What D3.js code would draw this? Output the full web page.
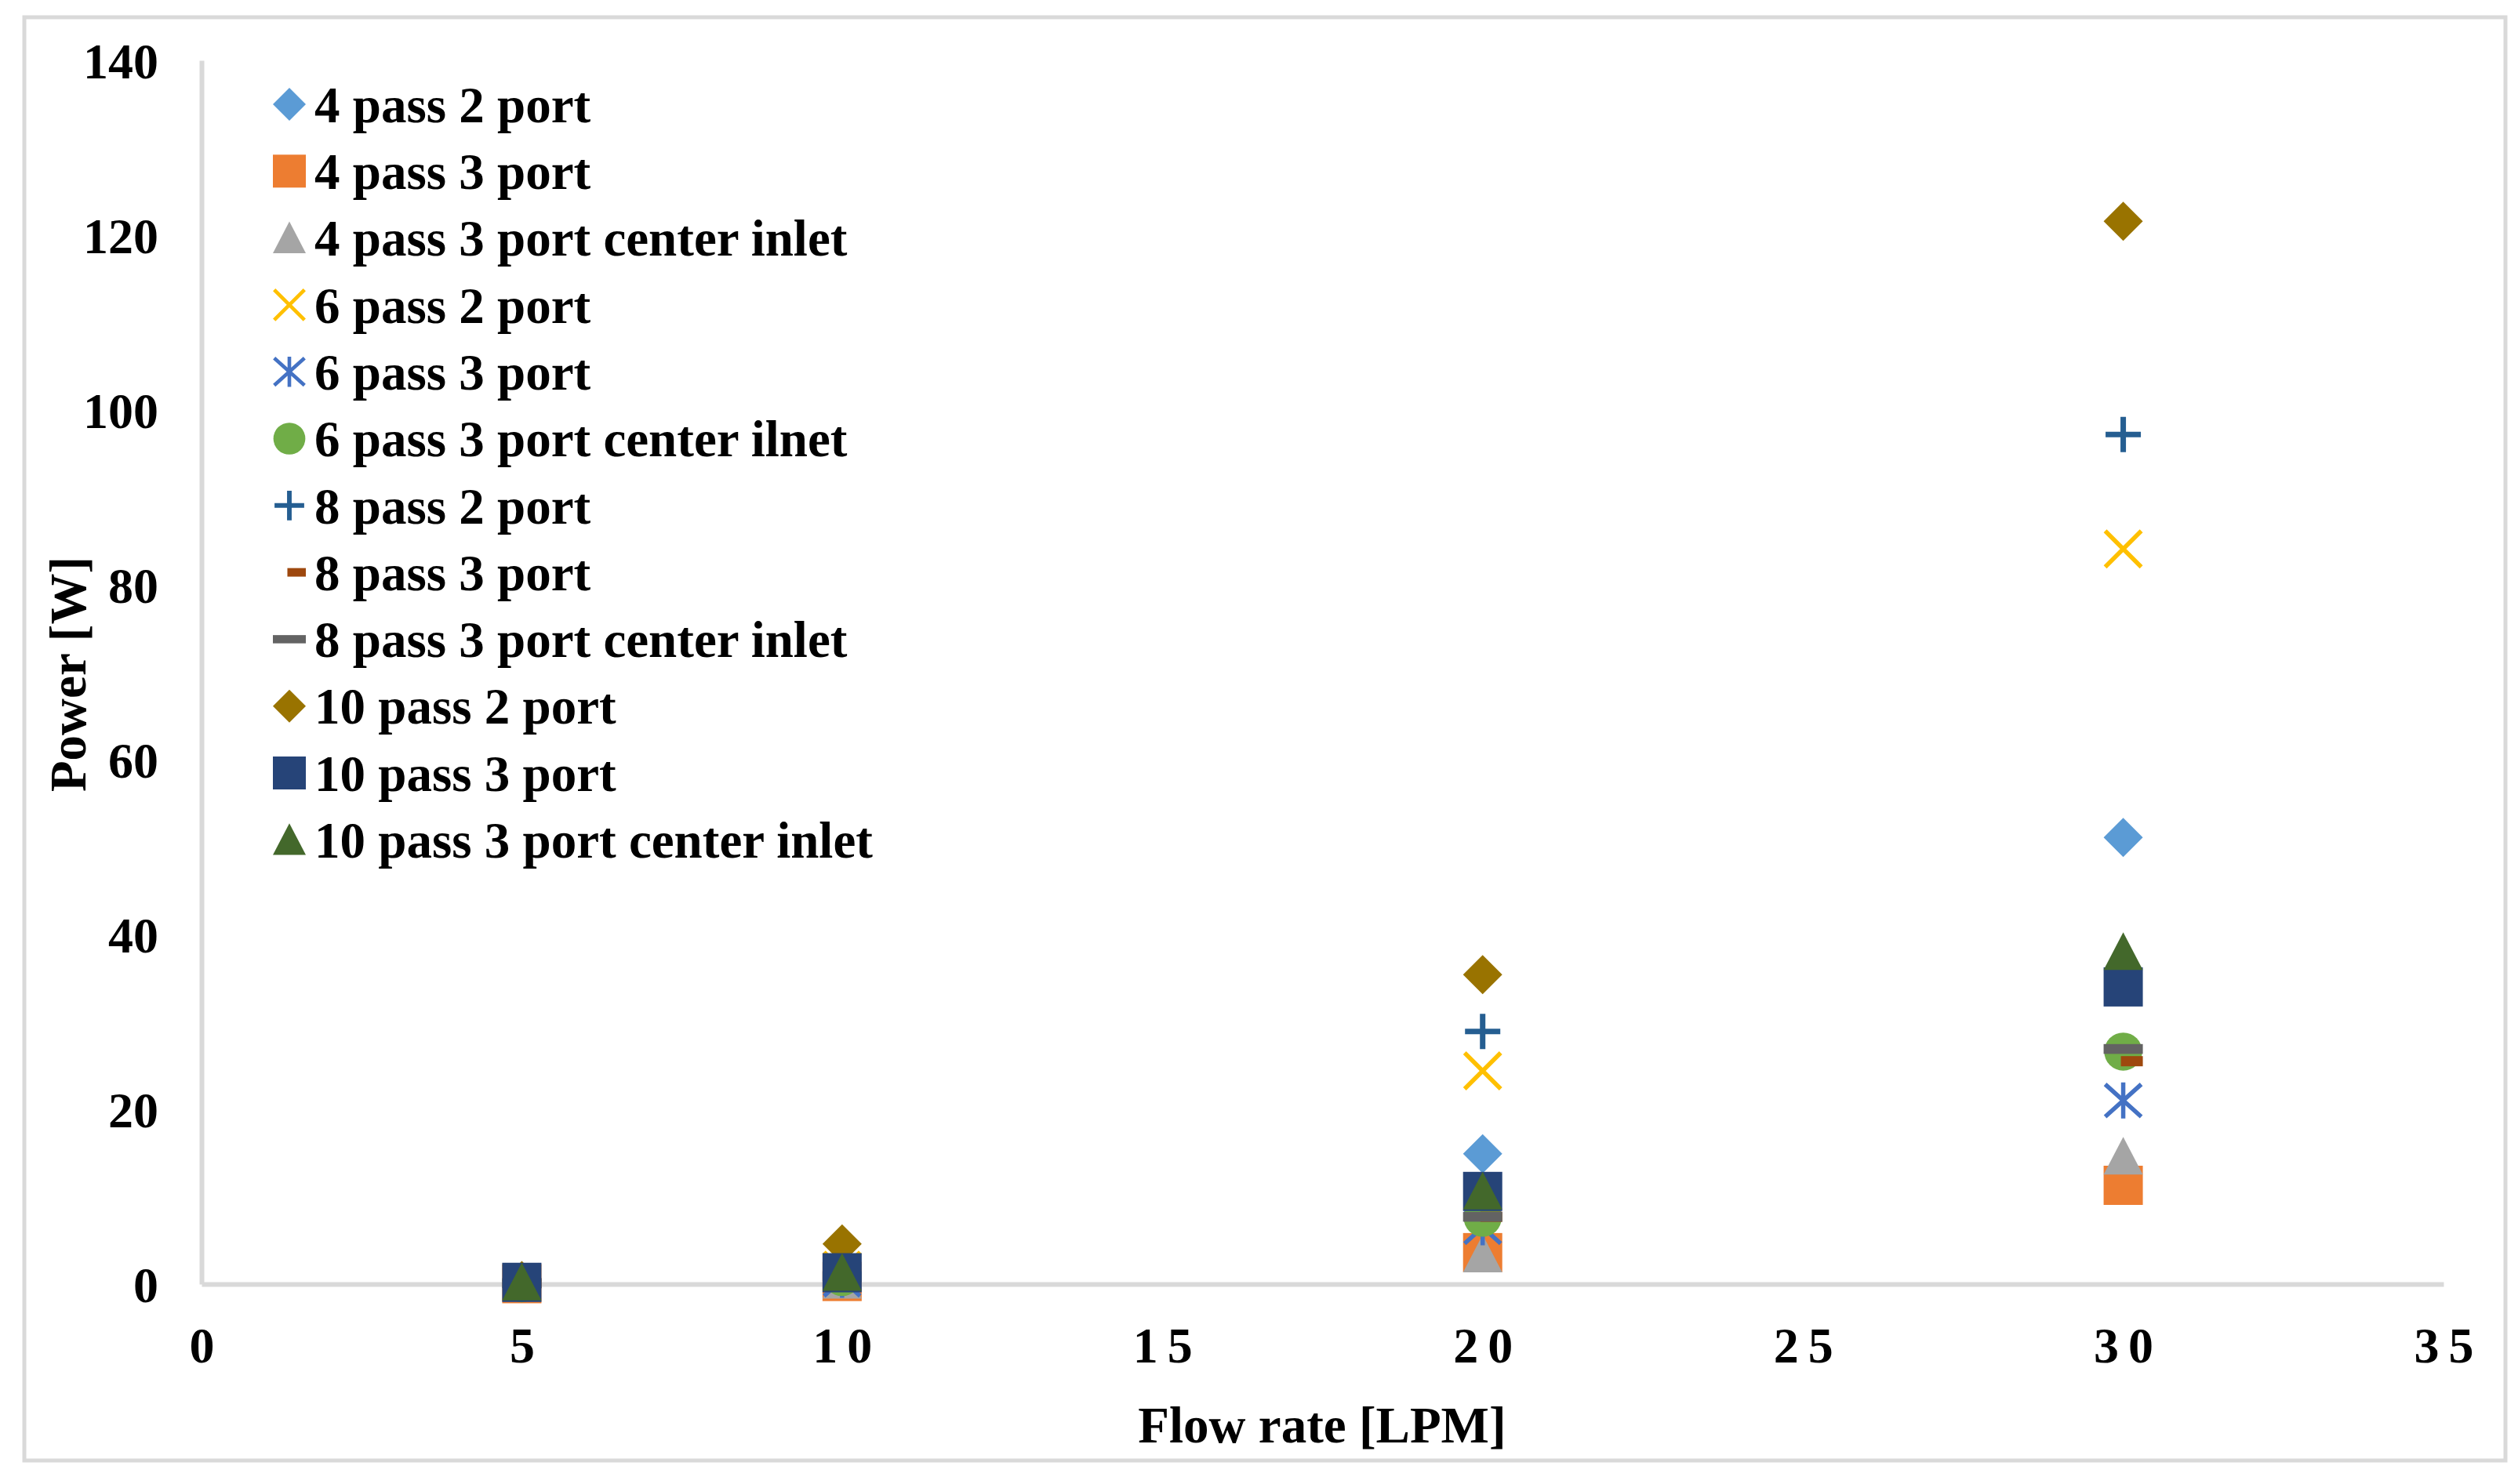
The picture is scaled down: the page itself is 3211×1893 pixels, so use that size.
<!DOCTYPE html>
<html>
<head>
<meta charset="utf-8">
<script src="https://cdn.jsdelivr.net/npm/d3@7"></script>
<style>
  html, body { margin: 0; padding: 0; background: #fff; }
  svg text { font-family: "Liberation Serif", "Times New Roman", serif; font-weight: bold; fill: #000; }
</style>
</head>
<body>
<svg id="chart" width="3211" height="1893"></svg>
<script>
// ---------------- data ----------------
const flowRates = [5, 10, 20, 30];
const seriesNames = [
  "4 pass 2 port", "4 pass 3 port", "4 pass 3 port center inlet",
  "6 pass 2 port", "6 pass 3 port", "6 pass 3 port center ilnet",
  "8 pass 2 port", "8 pass 3 port", "8 pass 3 port center inlet",
  "10 pass 2 port", "10 pass 3 port", "10 pass 3 port center inlet"
];
const s4p2  = [0.1, 1.2, 14.9, 51.1];
const s4p3  = [0.05, 0.3, 3.6, 11.3];
const s4p3c = [0.05, 0.4, 3.4, 14.6];
const s6p2  = [0.2, 1.6, 24.4, 84.1];
const s6p3  = [0.05, 0.5, 6.5, 21.0];
const s6p3c = [0.1, 0.8, 7.6, 26.6];
const s8p2  = [0.3, 2.0, 28.9, 97.2];
const s8p3  = [0.1, 0.8, 7.7, 25.5];
const s8p3c = [0.1, 0.9, 7.7, 26.9];
const s10p2 = [0.4, 4.6, 35.4, 121.6];
const s10p3 = [0.2, 1.3, 10.6, 34.0];
const s10p3c= [0.2, 1.3, 10.6, 38.0];
const seriesValues = [s4p2, s4p3, s4p3c, s6p2, s6p3, s6p3c, s8p2, s8p3, s8p3c, s10p2, s10p3, s10p3c];
const seriesColors = ["#5b9bd5", "#ed7d31", "#a5a5a5", "#ffc000", "#4472c4", "#70ad47",
                      "#255e91", "#9e480e", "#636363", "#997300", "#264478", "#43682b"];
const seriesMarkers = ["diamond", "square", "triangle", "x", "asterisk", "circle",
                       "plus", "shortdash", "dash", "diamond", "square", "triangle"];
const xTicks = [0, 5, 10, 15, 20, 25, 30, 35];
const yTicks = [0, 20, 40, 60, 80, 100, 120, 140];
const xTitle = "Flow rate [LPM]";
const yTitle = "Power [W]";

// ---------------- layout ----------------
(function () {
const svg = d3.select("#chart");
const W = 3211, H = 1893;
const pLeft = 257, pRight = 3116, pTop = 77, pBottom = 1638;

svg.append("rect").attr("x", 0).attr("y", 0).attr("width", W).attr("height", H).attr("fill", "#fff");
svg.append("rect").attr("x", 31).attr("y", 22).attr("width", 3164).attr("height", 1841)
   .attr("fill", "none").attr("stroke", "#d9d9d9").attr("stroke-width", 5);

const x = d3.scaleLinear().domain([0, 35]).range([pLeft, pRight]);
const y = d3.scaleLinear().domain([0, 140]).range([pBottom, pTop]);

// axes
const xAxis = svg.append("g").attr("transform", `translate(0,${pBottom})`)
  .call(d3.axisBottom(x).tickValues(xTicks).tickSize(0).tickPadding(0).tickFormat(d3.format("d")));
xAxis.select(".domain").attr("stroke", "#d9d9d9").attr("stroke-width", 6);
xAxis.selectAll("text").attr("font-size", 64).attr("fill", "#000")
  .attr("letter-spacing", "12px").attr("dx", "6px")
  .attr("y", 78).attr("dy", "0.35em")
  .style("font-family", "'Liberation Serif', serif").style("font-weight", "bold");

const yAxis = svg.append("g").attr("transform", `translate(${pLeft},0)`)
  .call(d3.axisLeft(y).tickValues(yTicks).tickSize(0).tickPadding(55).tickFormat(d3.format("d")));
yAxis.select(".domain").attr("stroke", "#d9d9d9").attr("stroke-width", 6);
yAxis.selectAll("text").attr("font-size", 64).attr("fill", "#000").attr("dy", "0.35em")
  .style("font-family", "'Liberation Serif', serif").style("font-weight", "bold");

// titles
svg.append("text").attr("x", 1686).attr("y", 1817).attr("dy", "0.35em")
  .attr("text-anchor", "middle").attr("font-size", 65).text(xTitle);
svg.append("text").attr("transform", "translate(86,860) rotate(-90)").attr("dy", "0.35em")
  .attr("text-anchor", "middle").attr("font-size", 65).text(yTitle);

// ---------------- markers ----------------
function drawMarker(g, type, color, s) {
  const h = s / 2;
  if (type === "diamond") {
    g.append("path").attr("d", `M0,${-h}L${h},0L0,${h}L${-h},0Z`).attr("fill", color);
  } else if (type === "square") {
    g.append("rect").attr("x", -h).attr("y", -h).attr("width", s).attr("height", s).attr("fill", color);
  } else if (type === "triangle") {
    g.append("path").attr("d", `M0,${-h}L${h},${h * 0.92}L${-h},${h * 0.92}Z`).attr("fill", color);
  } else if (type === "circle") {
    g.append("circle").attr("r", h * 0.97).attr("fill", color);
  } else if (type === "x") {
    const a = s * 0.46;
    g.append("path").attr("d", `M${-a},${-a}L${a},${a}M${a},${-a}L${-a},${a}`)
      .attr("stroke", color).attr("stroke-width", s * 0.11).attr("fill", "none");
  } else if (type === "plus") {
    const a = s * 0.45;
    g.append("path").attr("d", `M${-a},0L${a},0M0,${-a}L0,${a}`)
      .attr("stroke", color).attr("stroke-width", s * 0.14).attr("fill", "none");
  } else if (type === "asterisk") {
    const a = s * 0.46;
    g.append("path").attr("d", `M${-a},${-a * 0.9}L${a},${a * 0.9}M${a},${-a * 0.9}L${-a},${a * 0.9}M0,${-a}L0,${a}`)
      .attr("stroke", color).attr("stroke-width", s * 0.11).attr("fill", "none");
  } else if (type === "dash") {
    g.append("rect").attr("x", -h).attr("y", -s * 0.125).attr("width", s).attr("height", s * 0.25).attr("fill", color);
  } else if (type === "shortdash") {
    g.append("rect").attr("x", -s * 0.06).attr("y", -s * 0.13).attr("width", s * 0.56).attr("height", s * 0.26).attr("fill", color);
  }
}

const plot = svg.append("g");
seriesNames.forEach((name, i) => {
  const sg = plot.append("g").attr("class", "series");
  flowRates.forEach((fr, j) => {
    const g = sg.append("g").attr("transform", `translate(${x(fr)},${y(seriesValues[i][j])})`);
    drawMarker(g, seriesMarkers[i], seriesColors[i], 50);
  });
});

// ---------------- legend ----------------
const legendY0 = 133, legendStep = 85.3, legendMarkerX = 369, legendTextX = 401;
const legend = svg.append("g");
seriesNames.forEach((name, i) => {
  const cy = legendY0 + i * legendStep;
  const mg = legend.append("g").attr("transform", `translate(${legendMarkerX},${cy})`);
  drawMarker(mg, seriesMarkers[i], seriesColors[i], 42);
  legend.append("text").attr("x", legendTextX).attr("y", cy).attr("dy", "0.35em")
    .attr("font-size", 65).text(name);
});
})();
</script>
</body>
</html>
